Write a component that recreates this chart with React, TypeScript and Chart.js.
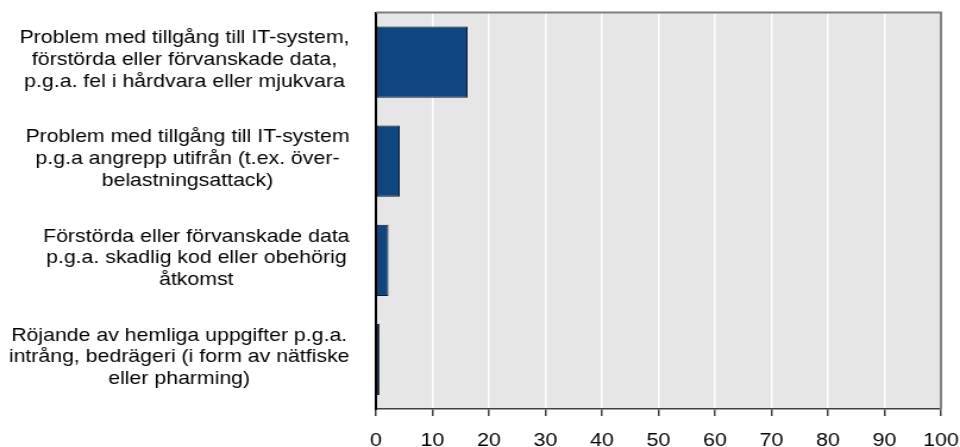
import { useEffect, useRef } from "react";
import { Chart, registerables } from "chart.js";

Chart.register(...registerables);

// Category labels, one array of lines per bar
const categories: string[][] = [
  ["Problem med tillgång till IT-system,", "förstörda eller förvanskade data,", "p.g.a. fel i hårdvara eller mjukvara"],
  ["Problem med tillgång till IT-system", "p.g.a angrepp utifrån (t.ex. över-", "belastningsattack)"],
  ["Förstörda eller förvanskade data", "p.g.a. skadlig kod eller obehörig", "åtkomst"],
  ["Röjande av hemliga uppgifter p.g.a.", "intrång, bedrägeri (i form av nätfiske", "eller pharming)"],
];

// Share (percent) per category
const values: number[] = [16.2, 4.2, 2.2, 0.6];

// Value axis
const axisMin = 0;
const axisMax = 100;
const axisStep = 10;

// The chart is laid out on a narrower canvas and stretched horizontally.
const OUT_W = 960;
const OUT_H = 447;
const LOGICAL_W = 807;
const SX = OUT_W / LOGICAL_W;

const FONT = '"Liberation Sans", Arial, Helvetica, sans-serif';
const LABEL_SIZE = 17.9;
const LABEL_LINE = 21.8;
const LABEL_RIGHT = 349.5 / SX;
const LABEL_SHIFT = 3;

const plotBackground = {
  id: "plotBackground",
  beforeDraw(chart: any) {
    const { ctx, chartArea } = chart;
    ctx.save();
    ctx.fillStyle = "#e6e6e6";
    ctx.fillRect(chartArea.left, chartArea.top, chartArea.right - chartArea.left, chartArea.bottom - chartArea.top);
    ctx.restore();
  },
  afterDraw(chart: any) {
    const { ctx, chartArea } = chart;
    ctx.save();
    ctx.strokeStyle = "#7f7f7f";
    ctx.lineWidth = 2;
    ctx.beginPath();
    ctx.moveTo(chartArea.left, chartArea.top);
    ctx.lineTo(chartArea.right, chartArea.top);
    ctx.lineTo(chartArea.right, chartArea.bottom);
    ctx.stroke();
    ctx.restore();
  },
};

// Category labels: each block is right-aligned to the axis, its lines centred within it
const categoryLabels = {
  id: "categoryLabels",
  afterDraw(chart: any) {
    const { ctx } = chart;
    const yScale = chart.scales.y;
    ctx.save();
    ctx.font = `${LABEL_SIZE}px ${FONT}`;
    ctx.fillStyle = "#000";
    ctx.textAlign = "center";
    ctx.textBaseline = "alphabetic";
    categories.forEach((lines, i) => {
      const widest = Math.max(...lines.map((l) => ctx.measureText(l).width));
      const cx = LABEL_RIGHT - widest / 2;
      const cy = yScale.getPixelForValue(i);
      lines.forEach((line, j) => {
        ctx.fillText(line, cx, cy + LABEL_SHIFT + (j - (lines.length - 1) / 2) * LABEL_LINE);
      });
    });
    ctx.restore();
  },
};

export default function App() {
  const canvasRef = useRef<HTMLCanvasElement | null>(null);

  useEffect(() => {
    if (!canvasRef.current) return;
    const chart = new Chart(canvasRef.current, {
      type: "bar",
      data: {
        labels: categories.map((c) => c.join(" ")),
        datasets: [
          {
            data: values,
            backgroundColor: "#10467f",
            borderColor: "#0b1a2e",
            borderWidth: 1,
            borderSkipped: false,
            categoryPercentage: 1,
            barPercentage: 0.72,
          },
        ],
      },
      options: {
        indexAxis: "y",
        animation: false,
        responsive: true,
        maintainAspectRatio: false,
        devicePixelRatio: 1,
        layout: { padding: { top: 12.5, right: 19 / SX, left: 0, bottom: 0 } },
        plugins: {
          legend: { display: false },
          tooltip: { enabled: false },
          title: { display: false },
        },
        scales: {
          x: {
            type: "linear",
            min: axisMin,
            max: axisMax,
            ticks: {
              stepSize: axisStep,
              color: "#000",
              padding: 14,
              maxRotation: 0,
              font: { family: FONT, size: 18 },
            },
            grid: {
              color: "#ffffff",
              lineWidth: 1.5,
              tickColor: "#404040",
              tickWidth: 1.5,
              tickLength: 7,
              drawTicks: true,
            },
            border: { display: true, color: "#404040", width: 1.5 },
            afterFit(scale: any) {
              scale.height = OUT_H - 409;
              scale.paddingLeft = 0;
              scale.paddingRight = 0;
            },
          },
          y: {
            type: "category",
            ticks: { display: false },
            grid: { display: false, drawTicks: false, tickLength: 0 },
            border: { display: true, color: "#000", width: 2 },
            afterFit(scale: any) {
              scale.width = 376 / SX;
            },
          },
        },
      },
      plugins: [plotBackground, categoryLabels],
    });
    return () => chart.destroy();
  }, []);

  return (
    <div
      style={{
        position: "fixed",
        left: 0,
        top: 0,
        width: OUT_W,
        height: OUT_H,
        overflow: "hidden",
        background: "#fff",
      }}
    >
      <div
        style={{
          position: "relative",
          width: LOGICAL_W,
          height: OUT_H,
          transform: `scaleX(${SX})`,
          transformOrigin: "0 0",
        }}
      >
        <canvas ref={canvasRef} style={{ display: "block" }} />
      </div>
    </div>
  );
}
